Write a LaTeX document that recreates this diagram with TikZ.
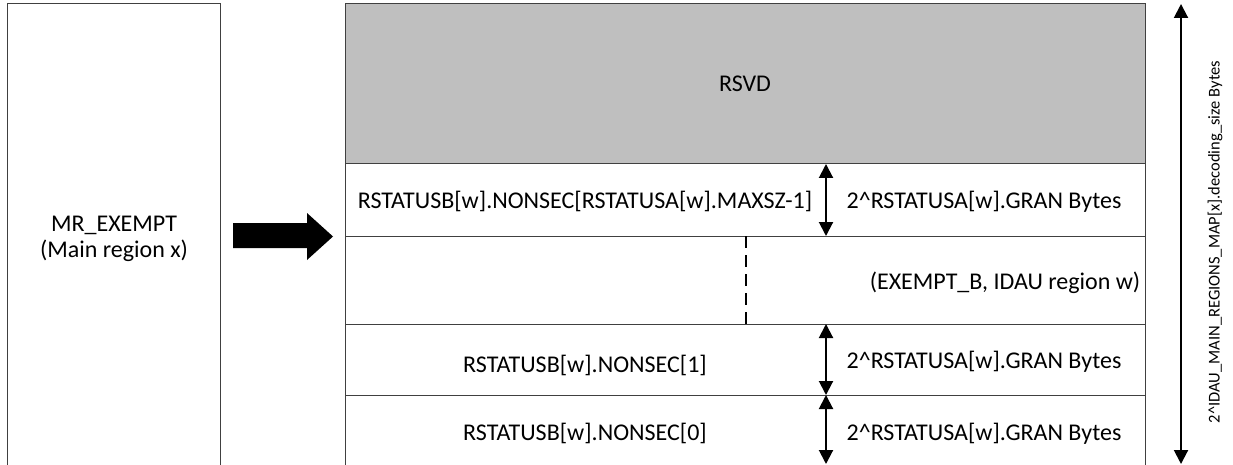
\documentclass[tikz,border=0pt]{standalone}
\usepackage{fontspec}
\setmainfont{Carlito}
\usetikzlibrary{arrows.meta}
\definecolor{rsvdgray}{HTML}{BFBFBF}
\definecolor{edge}{HTML}{404040}
\begin{document}
\begin{tikzpicture}[x=1pt,y=-1pt,
  box/.style={draw=edge, line width=1pt, inner sep=0pt, outer sep=0pt,
    minimum width=800pt, anchor=north west},
  lbl/.style={font=\fontsize{24}{25.5}\selectfont, inner sep=0pt, anchor=base},
  vlbl/.style={font=\fontsize{16.5}{18}\selectfont, inner sep=0pt, rotate=90},
  dim/.style={black, line width=2pt,
    {Triangle[width=14pt,length=14pt]}-{Triangle[width=14pt,length=14pt]}},
  gap/.style={black, line width=1.5pt, dash pattern=on 12pt off 7pt},
]
\useasboundingbox (0,0) rectangle (1233,465);
\clip (0,0) rectangle (1233,465);

% main region on the left
\node[box, minimum width=213pt, minimum height=490pt] (mr) at (7,4) {};
\node[lbl, align=center] (mrtext) at (114,257) {MR\_EXEMPT\\(Main region x)};

% stack of sub-regions
\node[box, fill=rsvdgray, minimum height=160pt] (rsvd) at (345,4) {};
\node[box, minimum height=72pt] (row1) at (345,164) {};
\node[box, minimum height=88pt] (row2) at (345,236) {};
\node[box, minimum height=71pt] (row3) at (345,324) {};
\node[box, minimum height=100pt] (row4) at (345,395) {};

\node[lbl] (rsvdtext) at (745,92) {RSVD};
\node[lbl] (n1) at (585,208) {RSTATUSB[w].NONSEC[RSTATUSA[w].MAXSZ-1]};
\node[lbl] (g1) at (984,208) {2\textasciicircum RSTATUSA[w].GRAN Bytes};
\node[lbl] (ex) at (1005,289) {(EXEMPT\_B, IDAU region w)};
\node[lbl] (n3) at (585,372) {RSTATUSB[w].NONSEC[1]};
\node[lbl] (g3) at (984,368) {2\textasciicircum RSTATUSA[w].GRAN Bytes};
\node[lbl] (n4) at (585,440) {RSTATUSB[w].NONSEC[0]};
\node[lbl] (g4) at (984,440) {2\textasciicircum RSTATUSA[w].GRAN Bytes};

% size markers of one granule
\coordinate (gx) at (826,0);
\coordinate (dx) at (746,0);
\coordinate (row4end) at (826,464);
\draw[dim] (row1.north -| gx) -- (row1.south -| gx);
\draw[dim] (row3.north -| gx) -- (row3.south -| gx);
\draw[dim] (row4.north -| gx) -- (row4end);
\draw[gap] (row2.north -| dx) -- (row2.south -| dx);

% mapping arrow
\fill[black] (233,223) -- (307,223) -- (307,213) -- (333,236.5)
  -- (307,260) -- (307,248) -- (233,248) -- cycle;

% total decoding size
\coordinate (sztop) at (1181,4);
\coordinate (szbot) at (1181,464);
\draw[dim] (sztop) -- (szbot);
\node[vlbl] (sz) at (1215,242) {2\textasciicircum IDAU\_MAIN\_REGIONS\_MAP[x].decoding\_size Bytes};
\end{tikzpicture}
\end{document}
